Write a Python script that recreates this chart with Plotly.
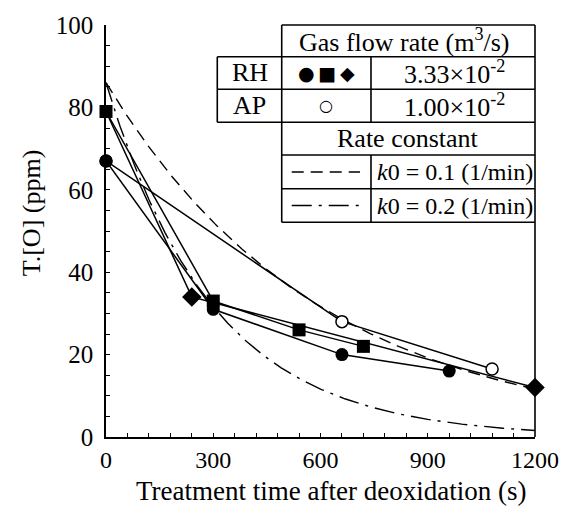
import numpy as np
import plotly.graph_objects as go

# Total oxygen measured during treatment (time in s, T.[O] in ppm)
rh_circle_time = [0, 300, 660, 960]
rh_circle_oxygen = [67, 31, 20, 16]

rh_square_time = [0, 300, 540, 720]
rh_square_oxygen = [79, 33, 26, 22]

rh_diamond_time = [0, 240, 1200]
rh_diamond_oxygen = [79, 34, 12]

ap_time = [0, 660, 1080]
ap_oxygen = [67, 28, 16.5]

# First-order deoxidation model: C = C0 * exp(-k0 * t)
initial_oxygen = 86
rate_constants = [0.1, 0.2]          # 1/min
model_dashes = ["12px,7px", "20px,7px,3px,7px"]

x_ticks = [0, 300, 600, 900, 1200]
y_ticks = [0, 20, 40, 60, 80, 100]

FONT = "Liberation Serif"
BLACK = "black"

fig = go.Figure()

# model curves
model_time = np.linspace(0, 1200, 241)
for k0, dash in zip(rate_constants, model_dashes):
    fig.add_trace(go.Scatter(
        x=model_time, y=initial_oxygen * np.exp(-k0 * model_time / 60.0),
        mode="lines", line=dict(color=BLACK, width=1.4, dash=dash),
        hoverinfo="skip", showlegend=False))

def series(t, o, symbol, size, fill=BLACK, lw=0):
    fig.add_trace(go.Scatter(
        x=t, y=o, mode="lines+markers",
        line=dict(color=BLACK, width=1.5),
        marker=dict(symbol=symbol, size=size, color=fill, opacity=1,
                    line=dict(color=BLACK, width=lw)),
        cliponaxis=False, showlegend=False))

series(ap_time, ap_oxygen, "circle", 12, fill="white", lw=1.5)
# the starting diamond sits underneath the starting square
series(rh_diamond_time, rh_diamond_oxygen, "diamond",
       [0] + [15] * (len(rh_diamond_time) - 1))
series(rh_square_time, rh_square_oxygen, "square", 13)
series(rh_circle_time, rh_circle_oxygen, "circle", 13)

# ---- table-style key in the upper right (paper coordinates) ----
xa, xb, xc, xd = 0.2594, 0.4096, 0.6177, 1.0
ytop, y1, y2, y3, y4, y5, y6 = 1.0, 0.9229, 0.8441, 0.7639, 0.6843, 0.6024, 0.5212

shapes = []
def seg(x0, y0, x1, y1_):
    shapes.append(dict(type="line", xref="paper", yref="paper",
                       x0=x0, y0=y0, x1=x1, y1=y1_,
                       line=dict(color=BLACK, width=1.6)))

# header box
seg(xb, ytop, xd, ytop)
seg(xb, ytop, xb, y1)
# horizontal rules
seg(xa, y1, xd, y1)
seg(xa, y2, xd, y2)
seg(xa, y3, xd, y3)
seg(xb, y4, xd, y4)
seg(xb, y5, xd, y5)
seg(xb, y6, xd, y6)
# verticals
seg(xa, y1, xa, y3)
seg(xb, y1, xb, y6)
seg(xc, y1, xc, y3)
seg(xc, y4, xc, y6)
# right-hand frame line
seg(1.0, 0.0, 1.0, 1.0)

# line samples for the model curves
for yy, dash in zip([(y4 + y5) / 2, (y5 + y6) / 2], model_dashes):
    shapes.append(dict(type="line", xref="paper", yref="paper",
                       x0=0.4329, x1=0.5921, y0=yy, y1=yy,
                       line=dict(color=BLACK, width=1.4, dash=dash)))

annotations = []
def label(text, x, y, size=26, family=FONT):
    annotations.append(dict(text=text, x=x, y=y, xref="paper", yref="paper",
                            showarrow=False, xanchor="center", yanchor="middle",
                            font=dict(family=family, size=size, color=BLACK)))

mid_bd = (xb + xd) / 2
mid_ab = (xa + xb) / 2
mid_bc = (xb + xc) / 2
mid_cd = (xc + xd) / 2 + 0.004
label("Gas flow rate (m<sup>3</sup>/s)", mid_bd - 0.01, (ytop + y1) / 2)
label("RH", mid_ab, (y1 + y2) / 2)
label("AP", mid_ab, (y2 + y3) / 2)
label("●&#8201;■&#8201;◆", mid_bc, (y1 + y2) / 2, size=19, family="DejaVu Sans")
label("○", mid_bc, (y2 + y3) / 2, size=16, family="DejaVu Sans")
label("3.33×10<sup>-2</sup>", mid_cd, (y1 + y2) / 2)
label("1.00×10<sup>-2</sup>", mid_cd, (y2 + y3) / 2)
label("Rate constant", mid_bd, (y3 + y4) / 2)
label("<i>k</i>0 = %.1f (1/min)" % rate_constants[0], mid_cd, (y4 + y5) / 2, size=24)
label("<i>k</i>0 = %.1f (1/min)" % rate_constants[1], mid_cd, (y5 + y6) / 2, size=24)

# axis titles
annotations.append(dict(text="T.[O] (ppm)", x=-0.173, y=0.545, xref="paper", yref="paper",
                        showarrow=False, textangle=-90, xanchor="center", yanchor="middle",
                        font=dict(family=FONT, size=26, color=BLACK)))
annotations.append(dict(text="Treatment time after deoxidation (s)", x=0.524, y=-0.131,
                        xref="paper", yref="paper", showarrow=False,
                        xanchor="center", yanchor="middle",
                        font=dict(family=FONT, size=27, color=BLACK)))

axis_common = dict(showgrid=False, zeroline=False, showline=True,
                   linecolor=BLACK, linewidth=1.6, ticks="inside", ticklen=4,
                   tickwidth=1.2, tickcolor=BLACK)

fig.update_layout(
    width=575, height=506,
    margin=dict(l=106, r=40, t=22, b=69),
    paper_bgcolor="white", plot_bgcolor="white",
    shapes=shapes, annotations=annotations,
    xaxis=dict(range=[0, 1200], tickvals=x_ticks,
               minor=dict(dtick=60, ticks="inside", ticklen=4, tickcolor=BLACK, tickwidth=1.2),
               tickfont=dict(family=FONT, size=24, color=BLACK),
               ticklabelstandoff=0,
               **axis_common),
    yaxis=dict(range=[0, 100], tickvals=y_ticks,
               minor=dict(dtick=5, ticks="inside", ticklen=4, tickcolor=BLACK, tickwidth=1.2),
               tickfont=dict(family=FONT, size=25, color=BLACK),
               ticklabelstandoff=6,
               **axis_common),
)

fig.write_html("out.html")
